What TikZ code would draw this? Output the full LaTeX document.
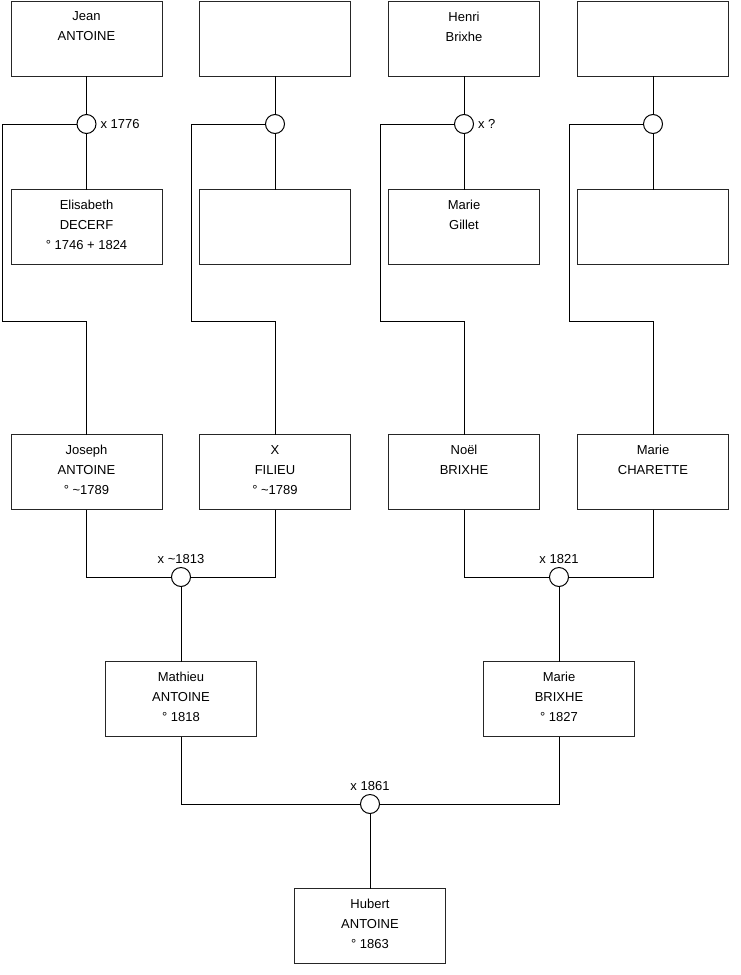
\documentclass[tikz,border=0pt]{standalone}
\usepackage{fontspec}
\setmainfont{Liberation Sans}
\begin{document}
\begin{tikzpicture}[x=0.75pt,y=-0.75pt,
  line width=0.75pt,
  pbox/.style={draw=black!85, minimum width=113.25pt, minimum height=56.25pt, inner sep=0pt, outer sep=0pt},
  ptext/.style={anchor=north, align=center, inner sep=0pt, yshift=-7.6pt, font=\fontsize{9.75pt}{15pt}\selectfont},
  wed/.style={circle, draw=black, fill=white, minimum size=14.25pt, inner sep=0pt, outer sep=0pt},
  wlab/.style={inner sep=0pt, font=\fontsize{9.75pt}{12pt}\selectfont},
  link/.style={draw=black}
]
\useasboundingbox (0,0) rectangle (740,975);

% top row
\node[pbox, label={[ptext]north:{Jean\\ANTOINE}}] (p1) at (86.5,38.5) {};
\node[pbox] (p2) at (275,38.5) {};
\node[pbox, label={[ptext]north:{Henri\\Brixhe}}] (p3) at (464,38.5) {};
\node[pbox] (p4) at (653,38.5) {};
% second row
\node[pbox, label={[ptext]north:{Elisabeth\\DECERF\\° 1746 + 1824}}] (p5) at (86.5,227) {};
\node[pbox] (p6) at (275,227) {};
\node[pbox, label={[ptext]north:{Marie\\Gillet}}] (p7) at (464,227) {};
\node[pbox] (p8) at (653,227) {};
% third row
\node[pbox, label={[ptext]north:{Joseph\\ANTOINE\\° \textasciitilde 1789}}] (p9) at (86.5,472) {};
\node[pbox, label={[ptext]north:{X\\FILIEU\\° \textasciitilde 1789}}] (p10) at (275,472) {};
\node[pbox, label={[ptext]north:{Noël\\BRIXHE}}] (p11) at (464,472) {};
\node[pbox, label={[ptext]north:{Marie\\CHARETTE}}] (p12) at (653,472) {};
% fourth row
\node[pbox, label={[ptext]north:{Mathieu\\ANTOINE\\° 1818}}] (p13) at (181,699) {};
\node[pbox, label={[ptext]north:{Marie\\BRIXHE\\° 1827}}] (p14) at (559,699) {};
% bottom
\node[pbox, label={[ptext]north:{Hubert\\ANTOINE\\° 1863}}] (p15) at (370,926) {};

% wedding circles
\node[wed] (m1) at (86.5,124) {};
\node[wed] (m2) at (275,124) {};
\node[wed] (m3) at (464,124) {};
\node[wed] (m4) at (653,124) {};
\node[wed] (m5) at (181,577) {};
\node[wed] (m6) at (559,577) {};
\node[wed] (m7) at (370,804) {};

% wedding labels
\node[wlab, anchor=west] (l1) at ([xshift=3pt]m1.east) {x 1776};
\node[wlab, anchor=west] (l3) at ([xshift=3pt]m3.east) {x ?};
\node[wlab, anchor=south] (l5) at ([yshift=2.5pt]m5.north) {x \textasciitilde 1813};
\node[wlab, anchor=south] (l6) at ([yshift=2.5pt]m6.north) {x 1821};
\node[wlab, anchor=south] (l7) at ([yshift=2.5pt]m7.north) {x 1861};

% turning points
\coordinate (k1) at (2,321);
\coordinate (k2) at (191,321);
\coordinate (k3) at (380,321);
\coordinate (k4) at (569,321);

% links
\foreach \a/\m/\b/\k/\c in {p1/m1/p5/k1/p9, p2/m2/p6/k2/p10, p3/m3/p7/k3/p11, p4/m4/p8/k4/p12}{
  \draw[link] (\a.south) -- (\m.north);
  \draw[link] (\m.south) -- (\b.north);
  \draw[link] (\m.west) -| (\k) -| (\c.north);
}
\draw[link] (p9.south) |- (m5.west);
\draw[link] (p10.south) |- (m5.east);
\draw[link] (m5.south) -- (p13.north);
\draw[link] (p11.south) |- (m6.west);
\draw[link] (p12.south) |- (m6.east);
\draw[link] (m6.south) -- (p14.north);
\draw[link] (p13.south) |- (m7.west);
\draw[link] (p14.south) |- (m7.east);
\draw[link] (m7.south) -- (p15.north);
\end{tikzpicture}
\end{document}
